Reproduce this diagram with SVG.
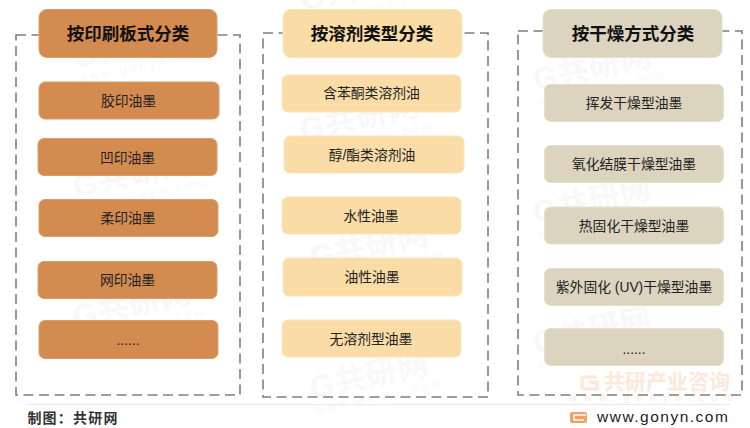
<svg xmlns="http://www.w3.org/2000/svg" width="750" height="428" viewBox="0 0 750 428">
<style>
text{font-family:"Liberation Sans","Noto Sans CJK SC",sans-serif;text-anchor:middle;fill:#222}
.h{font-size:17.500px;font-weight:700;fill:#111}
.t{font-size:13.800px}
.frame{fill:none;stroke:#7f7f7f;stroke-width:1.600;stroke-dasharray:10 5.500}
.a{fill:#d48b4f;stroke:#dc9c68;stroke-width:1}
.b{fill:#f9dca6;stroke:#fbe5bd;stroke-width:1}
.c{fill:#dcd4bf;stroke:#e5dfce;stroke-width:1}
.wm{font-size:31px;font-weight:700;fill:#f8f8f8;letter-spacing:1px}
.wu{font-size:12px;fill:#f8f8f8;letter-spacing:3.500px}
</style>
<defs>
<g id="mark"><text class="wm" x="0" y="8">G共研网</text><text class="wu" x="6" y="24">www.gonyn.com</text></g>
</defs>
<rect width="750" height="428" fill="#fff"/>
<g id="watermarks">
<use href="#mark" transform="translate(133 47) rotate(-12)"/>
<use href="#mark" transform="translate(133 177) rotate(-12)"/>
<use href="#mark" transform="translate(133 307) rotate(-12)"/>
<use href="#mark" transform="translate(360 -10) rotate(-12)"/>
<use href="#mark" transform="translate(360 120) rotate(-12)"/>
<use href="#mark" transform="translate(370 248) rotate(-12)"/>
<use href="#mark" transform="translate(370 378) rotate(-12)"/>
<use href="#mark" transform="translate(593 70) rotate(-12)"/>
<use href="#mark" transform="translate(593 203) rotate(-12)"/>
<use href="#mark" transform="translate(593 333) rotate(-12)"/>
</g>
<g id="footer-mark">
<path d="M597 377h-13a2 2 0 0 0-2 2v8a2 2 0 0 0 2 2h13v-7h-8" fill="none" stroke="#fde8da" stroke-width="3.500"/>
<text x="667" y="389" style="font-size:21px;font-weight:700;fill:#fde8da">共研产业咨询</text>
<text x="655" y="401" style="font-size:10px;fill:#fde8da;letter-spacing:7.500px">www.gonyn.com</text>
</g>
<g id="connectors">
<rect class="frame" x="16" y="35" width="224" height="360"/>
<rect class="frame" x="263" y="33" width="225" height="364"/>
<rect class="frame" x="518" y="31" width="224" height="364"/>
</g>
<g id="col1-header"><rect class="a" x="39" y="9.500" width="178" height="48" rx="8"/><text class="h" x="128" y="40">按印刷板式分类</text></g>
<g id="col1-1"><rect class="a" x="39" y="82" width="180" height="37" rx="6"/><text class="t" x="128.500" y="106">胶印油墨</text></g>
<g id="col1-2"><rect class="a" x="38" y="138.500" width="179" height="37" rx="6"/><text class="t" x="127.500" y="162.500">凹印油墨</text></g>
<g id="col1-3"><rect class="a" x="39" y="199.500" width="179" height="37" rx="6"/><text class="t" x="128" y="223">柔印油墨</text></g>
<g id="col1-4"><rect class="a" x="38" y="261.500" width="179" height="37" rx="6"/><text class="t" x="127.500" y="285">网印油墨</text></g>
<g id="col1-5"><rect class="a" x="39" y="320.500" width="179" height="38" rx="6"/><text class="t" x="128" y="345">......</text></g>
<g id="col2-header"><rect class="b" x="283" y="9.500" width="179" height="48" rx="8"/><text class="h" x="372" y="40">按溶剂类型分类</text></g>
<g id="col2-1"><rect class="b" x="282" y="75" width="179" height="37" rx="6"/><text class="t" x="371.500" y="98">含苯酮类溶剂油</text></g>
<g id="col2-2"><rect class="b" x="284" y="136" width="180" height="37" rx="6"/><text class="t" x="372" y="160">醇/酯类溶剂油</text></g>
<g id="col2-3"><rect class="b" x="282" y="197" width="179" height="37" rx="6"/><text class="t" x="371" y="221">水性油墨</text></g>
<g id="col2-4"><rect class="b" x="283" y="258" width="179" height="38" rx="6"/><text class="t" x="372" y="282">油性油墨</text></g>
<g id="col2-5"><rect class="b" x="282" y="320" width="179" height="37" rx="6"/><text class="t" x="371" y="344">无溶剂型油墨</text></g>
<g id="col3-header"><rect class="c" x="543" y="9.500" width="179" height="48" rx="8"/><text class="h" x="633" y="40">按干燥方式分类</text></g>
<g id="col3-1"><rect class="c" x="544.500" y="84.500" width="179" height="37" rx="6"/><text class="t" x="634" y="108">挥发干燥型油墨</text></g>
<g id="col3-2"><rect class="c" x="544.500" y="145.500" width="179" height="37" rx="6"/><text class="t" x="634" y="169">氧化结膜干燥型油墨</text></g>
<g id="col3-3"><rect class="c" x="544.500" y="207" width="179" height="37" rx="6"/><text class="t" x="634" y="231">热固化干燥型油墨</text></g>
<g id="col3-4"><rect class="c" x="544.500" y="268.500" width="179" height="37" rx="6"/><text class="t" x="634" y="292">紫外固化 (UV)干燥型油墨</text></g>
<g id="col3-5"><rect class="c" x="544.500" y="328.500" width="179" height="37" rx="6"/><text class="t" x="634" y="354">......</text></g>
<g id="footer">
<line x1="28" y1="404.500" x2="730" y2="404.500" stroke="#e8e8e8"/>
<text x="73" y="423" style="font-size:14px;font-weight:700;letter-spacing:1.200px;fill:#333">制图：共研网</text>
<rect x="570" y="412" width="17" height="11" rx="2" fill="#f4a15d"/>
<path d="M586 415h-12v5h10" fill="none" stroke="#fff" stroke-width="1.500"/>
<text x="597" y="422" style="font-size:15.500px;letter-spacing:1.500px;text-anchor:start;fill:#222">www.gonyn.com</text>
</g>
</svg>
